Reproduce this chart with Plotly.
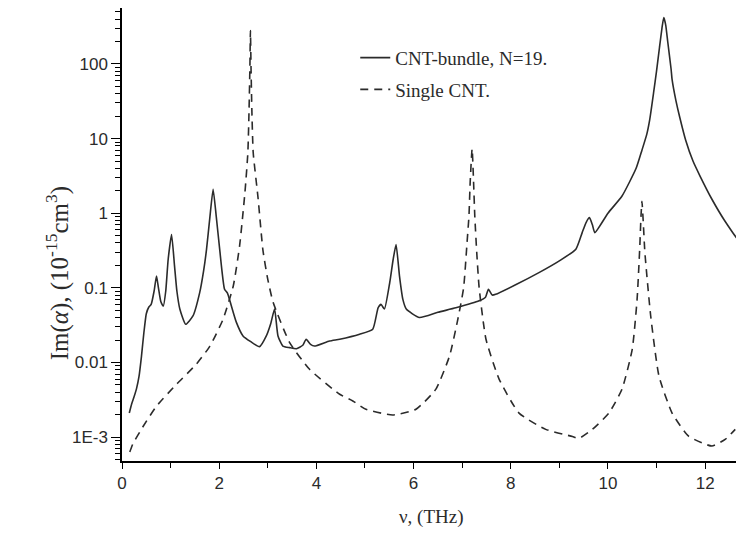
import plotly.graph_objects as go

# CNT-bundle, N=19 (solid)
bundle_nu = [0.15, 0.20, 0.25, 0.30, 0.35, 0.40, 0.45, 0.50, 0.55, 0.60, 0.66, 0.71, 0.75, 0.80, 0.85,
             0.90, 0.95, 1.02, 1.08, 1.13, 1.19, 1.31, 1.46, 1.60, 1.68, 1.74, 1.81, 1.875, 1.94, 2.01,
             2.11, 2.17, 2.22, 2.35, 2.49, 2.65, 2.83, 2.97, 3.06, 3.14, 3.21, 3.31, 3.45, 3.59, 3.72,
             3.79, 3.88, 3.96, 4.27, 4.48, 4.89, 5.16, 5.27, 5.33, 5.40, 5.51, 5.58, 5.64, 5.71, 5.78,
             5.85, 6.12, 6.50, 6.87, 7.35, 7.48, 7.54, 7.62, 7.69, 8.10, 8.58, 9.00, 9.34, 9.47, 9.55,
             9.62, 9.68, 9.73, 10.00, 10.29, 10.58, 10.70, 10.80, 10.86, 10.94, 11.00, 11.06, 11.12, 11.15,
             11.19, 11.23, 11.30, 11.32, 11.40, 11.48, 11.60, 11.75, 11.89, 12.14, 12.40, 12.76, 12.85]
bundle_im = [0.0021, 0.0028, 0.0035, 0.0045, 0.0065, 0.012, 0.025, 0.045, 0.055, 0.06, 0.09, 0.144, 0.1, 0.065, 0.057,
             0.09, 0.24, 0.52, 0.2, 0.09, 0.052, 0.0325, 0.042, 0.087, 0.17, 0.33, 0.9, 2.1, 0.9, 0.33,
             0.096, 0.085, 0.067, 0.035, 0.0227, 0.019, 0.0163, 0.0227, 0.033, 0.052, 0.0227, 0.0166, 0.0158, 0.0153, 0.017,
             0.0205, 0.0175, 0.0166, 0.0194, 0.0205, 0.0239, 0.0279, 0.054, 0.06, 0.052, 0.118, 0.24, 0.38, 0.145, 0.07,
             0.052, 0.04, 0.047, 0.054, 0.067, 0.075, 0.096, 0.08, 0.082, 0.11, 0.16, 0.23, 0.33, 0.55, 0.75,
             0.875, 0.7, 0.55, 1.0, 1.7, 4.0, 7.0, 11.5, 18, 41.5, 80, 165, 330, 420,
             330, 200, 85, 62, 32, 19, 9.5, 5.0, 3.2, 1.54, 0.8, 0.38, 0.36]

# Single CNT (dashed)
single_nu = [0.16, 0.22, 0.44, 0.71, 1.12, 1.53, 1.81, 2.08, 2.29, 2.42, 2.53, 2.59, 2.615, 2.632, 2.643,
             2.655, 2.672, 2.70, 2.80, 2.90, 3.00, 3.11, 3.45, 3.86, 4.48, 4.75, 5.02, 5.57, 6.05, 6.46, 6.74,
             6.90, 7.03, 7.10, 7.14, 7.165, 7.205, 7.235, 7.26, 7.30, 7.35, 7.49, 7.76, 8.17, 8.72, 9.27,
             9.40, 9.68, 10.02, 10.29, 10.50, 10.60, 10.655, 10.68, 10.70, 10.725, 10.76, 10.88, 11.05, 11.32,
             11.66, 12.14, 12.42, 12.62]
single_im = [6.3e-4, 8.0e-4, 1.41e-3, 2.6e-3, 5.1e-3, 9.5e-3, 0.0166, 0.038, 0.106, 0.365, 1.9, 6.5, 25, 90, 280,
             90, 25, 6.5, 1.6, 0.32, 0.13, 0.064, 0.0185, 0.0081, 3.75e-3, 3.05e-3, 2.36e-3, 1.98e-3, 2.36e-3, 4.4e-3, 0.0122,
             0.035, 0.1, 0.4, 0.92, 2.6, 7.3, 2.6, 0.92, 0.3, 0.1, 0.0205, 6e-3, 2.1e-3, 1.27e-3, 1.02e-3,
             9.6e-4, 1.27e-3, 2.1e-3, 4.4e-3, 0.015, 0.07, 0.35, 0.9, 1.45, 0.8, 0.3, 0.042, 6.6e-3, 2.1e-3,
             1.03e-3, 7.6e-4, 9.4e-4, 1.27e-3]

y_tickvals = [1e-3, 1e-2, 1e-1, 1, 10, 100]
y_ticktext = ["1E-3", "0.01", "0.1", "1", "10", "100"]
x_tickvals = [0, 2, 4, 6, 8, 10, 12]

minor_y = [m * 10.0 ** e for e in range(-4, 3) for m in range(2, 10)]

SERIF = "Liberation Serif, Times New Roman, serif"
SANS = "Liberation Sans, Arial, sans-serif"
INK = "#2b2b2b"

fig = go.Figure()
fig.add_trace(go.Scatter(x=bundle_nu, y=bundle_im, mode="lines", name="CNT-bundle, N=19.",
                         legendgroup="a", line=dict(color=INK, width=1.6, shape="spline", smoothing=0.5)))
fig.add_trace(go.Scatter(x=single_nu, y=single_im, mode="lines", name="Single CNT.",
                         legendgroup="b", line=dict(color=INK, width=1.6, dash="8px,6px",
                                                    shape="spline", smoothing=0.5)))

fig.update_layout(
    width=744, height=538,
    margin=dict(l=114, r=8, t=0, b=85),
    paper_bgcolor="white", plot_bgcolor="white",
    showlegend=True,
    legend=dict(x=0.375, y=0.932, xanchor="left", yanchor="top", bgcolor="rgba(0,0,0,0)",
                font=dict(family=SERIF, size=19, color=INK), tracegroupgap=4,
                traceorder="grouped", itemwidth=30),
    xaxis=dict(range=[0, 12.8], tickvals=x_tickvals, ticks="outside", ticklen=6, tickwidth=1.3,
               tickcolor="black", showline=True, linecolor="black", linewidth=1.5, showgrid=False,
               zeroline=False, tickfont=dict(family=SANS, size=17, color=INK),
               minor=dict(dtick=1, ticks="outside", ticklen=5, tickwidth=1.3, tickcolor="black", showgrid=False)),
    yaxis=dict(type="log", range=[-3.32, 2.75], tickvals=y_tickvals, ticktext=y_ticktext,
               ticks="outside", ticklen=9, tickwidth=1.3, tickcolor="black", showline=True,
               linecolor="black", linewidth=1.5, showgrid=False, zeroline=False,
               tickfont=dict(family=SANS, size=17, color=INK),
               minor=dict(tickvals=minor_y, ticks="outside", ticklen=5, tickwidth=1.1, tickcolor="black", showgrid=False)),
    annotations=[
        dict(text="Im(<i>α</i>), (10<sup>-15</sup>cm<sup>3</sup>)", xref="paper", yref="paper",
             x=-0.104, y=0.415, xanchor="center", yanchor="middle", textangle=-90, showarrow=False,
             font=dict(family=SERIF, size=25, color=INK)),
        dict(text="ν, (THz)", xref="paper", yref="paper", x=0.498, y=-0.124, xanchor="center",
             yanchor="middle", showarrow=False, font=dict(family=SERIF, size=19, color=INK)),
    ],
)

fig.write_html("out.html")
